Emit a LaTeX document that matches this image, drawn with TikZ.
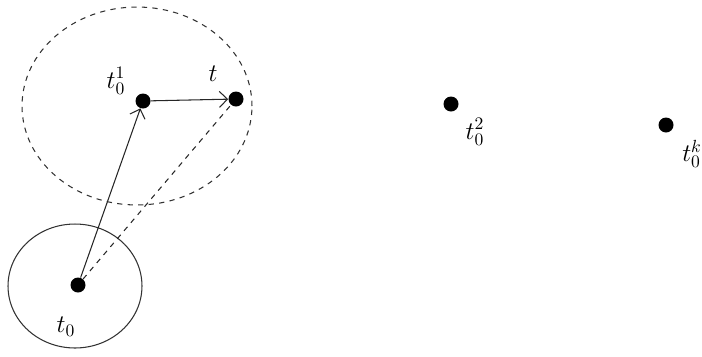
\documentclass[tikz,border=0pt]{standalone}
\usepackage{amsmath,amssymb}
\usetikzlibrary{arrows.meta,positioning,calc}

\begin{document}
\begin{tikzpicture}[x=0.02cm, y=-0.02cm, >={Straight Barb[length=1.6mm, width=3.2mm]},
    dot/.style={circle, fill=black, inner sep=0pt, minimum size=0.3cm},
    lbl/.style={inner sep=0pt, font=\Large}]
    \useasboundingbox (0,0) rectangle (702,356);

    % the two neighbourhoods
    \draw[dashed, semithick, black!80] (137,106) ellipse [x radius=2.3cm, y radius=1.98cm];
    \draw[semithick, black!80] (75,286) ellipse [x radius=1.34cm, y radius=1.24cm];

    % points
    \node[dot] (t0) at (78,285) {};
    \node[dot] (t01) at (143,101) {};
    \node[dot] (t) at (236,99) {};
    \node[dot] (t02) at (451,104) {};
    \node[dot] (t0k) at (666,125) {};

    \node[lbl] (t0lbl) at (66,327) {$t_0$};
    \node[lbl] (t01lbl) at (116,81) {$t_0^1$};
    \node[lbl] (tlbl) at (213,74) {$t$};
    \node[lbl] (t02lbl) at (475,132) {$t_0^2$};
    \node[lbl] (t0klbl) at (692,154) {$t_0^k$};

    % moves
    \draw[->, semithick, black!85] (t0) -- (t01);
    \draw[->, semithick, black!85] (t01) -- (t);
    \draw[dashed, semithick, black!85] (t0) -- (t);
\end{tikzpicture}
\end{document}
